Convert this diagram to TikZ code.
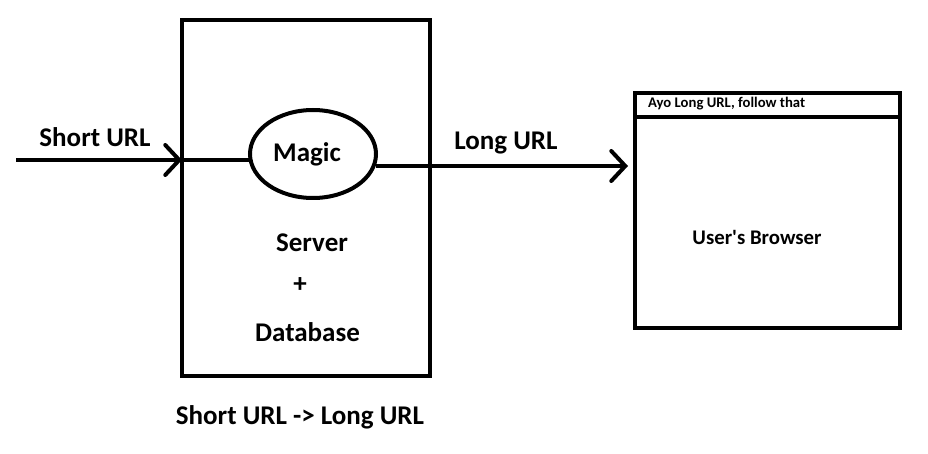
\documentclass[tikz,border=0pt]{standalone}
\usepackage{fontspec}
\setmainfont{Carlito}[Ligatures=TeXOff]
\usetikzlibrary{arrows.meta,shapes.geometric}
\begin{document}
\begin{tikzpicture}[x=1pt,y=-1pt,
  thick line/.style={line width=4pt},
  lbl/.style={font=\fontsize{27}{31}\selectfont\bfseries, inner sep=0pt},
  mid/.style={font=\fontsize{20.8}{24}\selectfont\bfseries, inner sep=0pt},
  small/.style={font=\fontsize{14.7}{17}\selectfont\bfseries, inner sep=0pt, anchor=west},
  barb/.style={-{Straight Barb[length=14pt,width=30pt,line width=4pt,line cap=round]}}
]
\useasboundingbox (0,0) rectangle (928,454);
% server box
\node[draw, thick line, minimum width=248pt, minimum height=356pt, inner sep=0pt] (server) at (306,198) {};
% magic ellipse
\node[draw, ellipse, thick line, minimum width=126pt, minimum height=88pt, inner sep=0pt] (magic) at (313,154) {};
\node[lbl] (magictxt) at (307,154) {Magic};
% browser
\node[draw, thick line, minimum width=265pt, minimum height=235pt, inner sep=0pt] (browser) at (767.5,210.5) {};
\coordinate (barL) at (635,117);
\coordinate (barR) at (900,117);
\draw[thick line] (barL) -- (barR);
\node[small] (title) at (648,104) {Ayo Long URL, follow that};
\node[mid] (usr) at (757,237) {User's Browser};
% texts
\node[lbl] (short) at (95,137) {Short URL};
\node[lbl] (long) at (506,143) {Long URL};
\node[lbl] (srv) at (312,243) {Server};
\node[lbl] (plus) at (300,285) {+};
\node[lbl] (db) at (307.5,332) {Database};
\node[lbl] (map) at (300,417) {Short URL -> Long URL};
% connectors
\coordinate (in) at (16,160);
\coordinate (inend) at (182,160);
\coordinate (mleft) at (250,160);
\coordinate (mright) at (376,166);
\coordinate (outend) at (628,166);
\draw[thick line, barb] (in) -- (inend);
\draw[thick line] (inend) -- (mleft);
\draw[thick line, barb] (mright) -- (outend);
\end{tikzpicture}
\end{document}
